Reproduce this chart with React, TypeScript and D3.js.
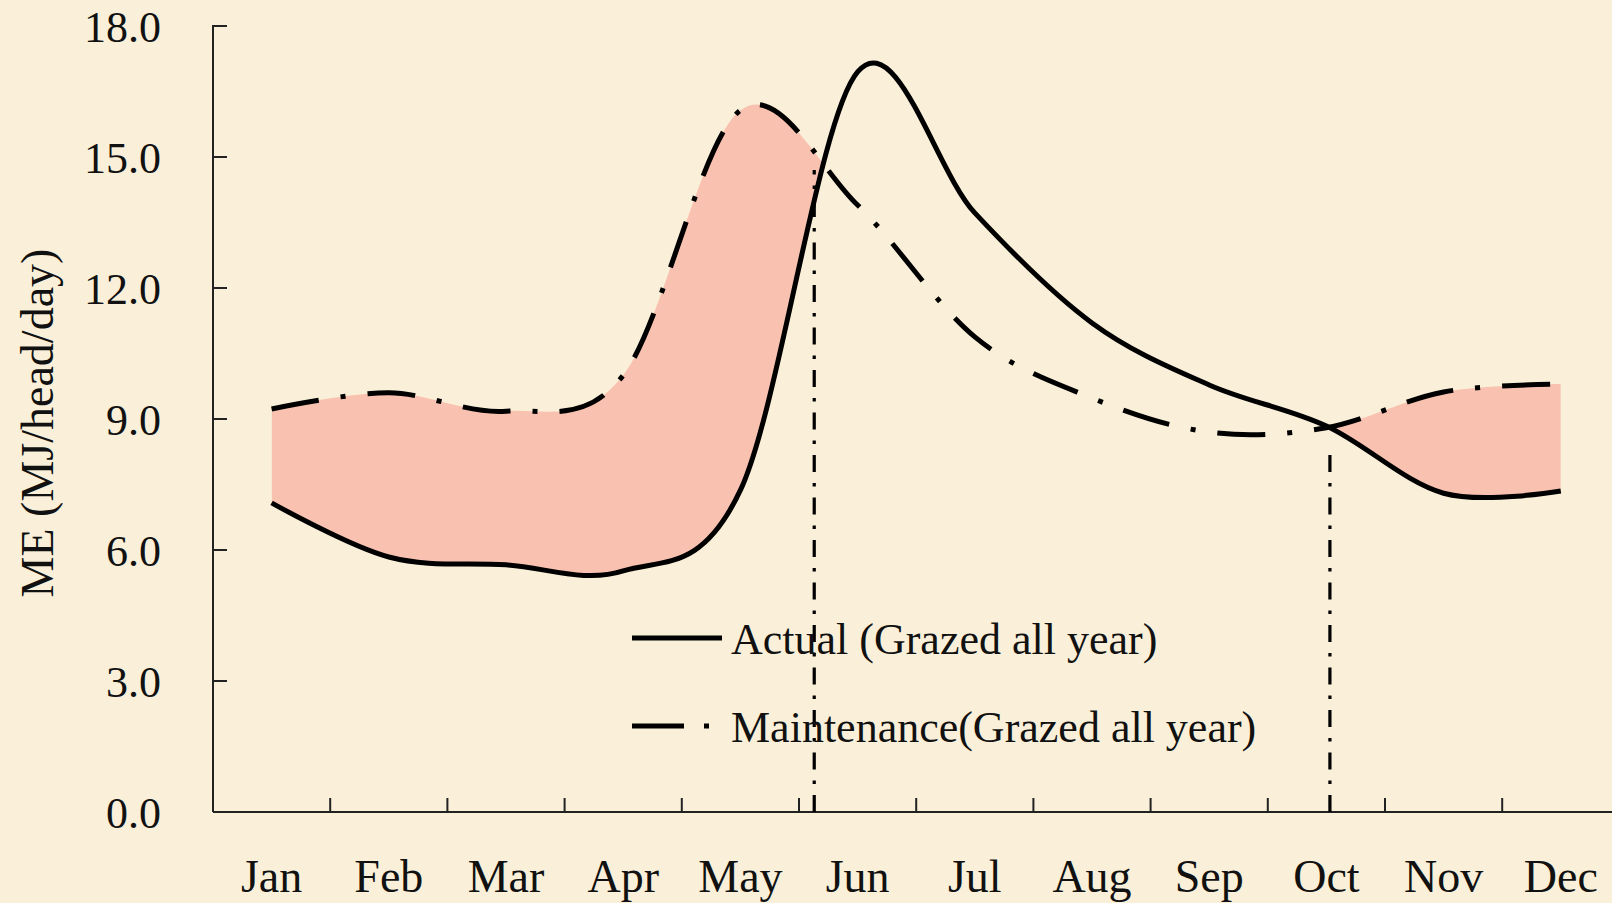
import React, { useEffect } from "react";
import * as d3 from "d3";

const months = ["Jan", "Feb", "Mar", "Apr", "May", "Jun", "Jul", "Aug", "Sep", "Oct", "Nov", "Dec"];
const actual = [7.08, 5.84, 5.66, 5.52, 7.37, 16.95, 13.72, 11.2, 9.78, 8.84, 7.3, 7.35];
const maintenance = [9.23, 9.6, 9.18, 10.0, 16.07, 13.9, 10.88, 9.48, 8.7, 8.8, 9.62, 9.8];
const yTicks = [0, 3, 6, 9, 12, 15, 18];
const markerPos = [4.63, 9.03]; // fractional month index of the vertical dash-dot markers
const markerTop = [14.7, 8.4];
const legendItems = ["Actual (Grazed all year)", "Maintenance(Grazed all year)"];
const yTitle = "ME (MJ/head/day)";

const W = 1612;
const H = 903;
const left = 213;
const bottom = 812;
const top = 26;
const band = 117.2;

export default function App() {
  useEffect(() => {
    document.body.style.margin = "0";
    document.body.style.background = "#FAF0D9";
  }, []);

  const x = d3.scaleBand<string>().domain(months).range([left, left + band * 12]).padding(0);
  const y = d3.scaleLinear().domain([0, 18]).range([bottom, top]);
  const cx = (i: number) => (x(months[0]) as number) + band / 2 + i * band;

  const curve = d3.curveCatmullRom.alpha(0);
  const line = d3
    .line<number>()
    .x((_, i) => cx(i))
    .y((d) => y(d))
    .curve(curve);
  const aboveArea = d3
    .area<number>()
    .x((_, i) => cx(i))
    .y0(0)
    .y1((d) => y(d))
    .curve(curve);
  const belowArea = d3
    .area<number>()
    .x((_, i) => cx(i))
    .y0(bottom)
    .y1((d) => y(d))
    .curve(curve);

  const font = "'Liberation Serif', 'Times New Roman', serif";
  const tickBounds = d3.range(1, 12).map((k) => left + k * band);

  return (
    <svg width={W} height={H} style={{ display: "block" }} fontFamily={font}>
      <defs>
        <clipPath id="aboveActual">
          <path d={aboveArea(actual) || ""} />
        </clipPath>
        <radialGradient id="blot" cx="50%" cy="50%" r="50%">
          <stop offset="0%" stopColor="#F3E2BE" stopOpacity={0.5} />
          <stop offset="100%" stopColor="#F3E2BE" stopOpacity={0} />
        </radialGradient>
      </defs>
      <rect x={0} y={0} width={W} height={H} fill="#FAF0D9" />

      {/* shaded deficit regions */}
      <path d={belowArea(maintenance) || ""} fill="#F9C2B0" clipPath="url(#aboveActual)" />

      {/* axes */}
      <line x1={left} y1={top - 1} x2={left} y2={bottom} stroke="#222" strokeWidth={2} />
      <line x1={left} y1={bottom} x2={W} y2={bottom} stroke="#222" strokeWidth={2} />
      {yTicks.map((t) => (
        <g key={t}>
          <line x1={left} x2={left + 14} y1={y(t)} y2={y(t)} stroke="#222" strokeWidth={2} />
          <text x={161} y={y(t)} dy="0.36em" textAnchor="end" fontSize={44} fill="#111">
            {t.toFixed(1)}
          </text>
        </g>
      ))}
      {tickBounds.map((b, i) => (
        <line key={i} x1={b} x2={b} y1={bottom} y2={bottom - 14} stroke="#222" strokeWidth={2} />
      ))}
      {months.map((m, i) => (
        <text key={m} x={cx(i)} y={892} textAnchor="middle" fontSize={46} fill="#111">
          {m}
        </text>
      ))}
      <text
        transform={`translate(36, 423) rotate(-90)`}
        textAnchor="middle"
        dy="0.36em"
        fontSize={46}
        fill="#111"
      >
        {yTitle}
      </text>

      {/* vertical markers */}
      {markerPos.map((p, i) => {
        const xx = cx(p);
        return (
          <line
            key={i}
            x1={xx}
            x2={xx}
            y1={bottom}
            y2={y(markerTop[i])}
            stroke="#000"
            strokeWidth={3.2}
            strokeDasharray="17 11 3.5 11"
          />
        );
      })}

      {/* series lines */}
      <path d={line(maintenance) || ""} fill="none" stroke="#000" strokeWidth={5} strokeDasharray="48 22 5 22" />
      <path d={line(actual) || ""} fill="none" stroke="#000" strokeWidth={5} />

      {/* legend */}
      <line x1={632} x2={722} y1={638} y2={638} stroke="#000" strokeWidth={5} />
      <text x={731} y={638} dy="0.36em" fontSize={44} fill="#111">
        {legendItems[0]}
      </text>
      <line x1={632} x2={684} y1={726} y2={726} stroke="#000" strokeWidth={5} />
      <line x1={704} x2={709} y1={726} y2={726} stroke="#000" strokeWidth={5} />
      <text x={731} y={726} dy="0.36em" fontSize={44} fill="#111">
        {legendItems[1]}
      </text>
    </svg>
  );
}
